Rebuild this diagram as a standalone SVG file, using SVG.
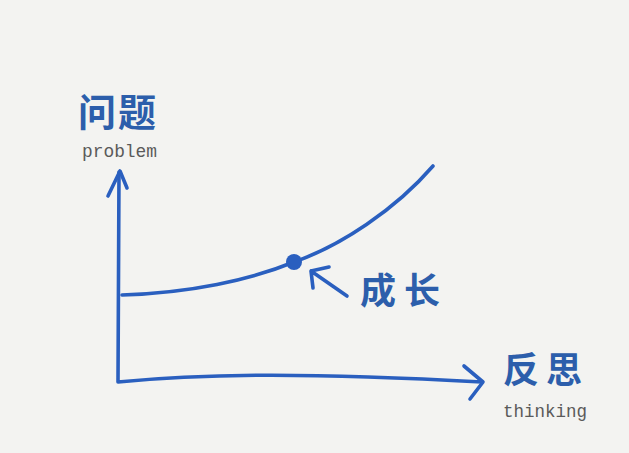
<svg xmlns="http://www.w3.org/2000/svg" width="629" height="453" viewBox="0 0 629 453">
  <style>
    .ln { fill: none; stroke: #2a5fbf; stroke-width: 3.6; stroke-linecap: round; stroke-linejoin: round; }
    .cjk { font-family: "Noto Sans CJK SC", "Liberation Sans", sans-serif; font-weight: bold; fill: #2c5eab; }
    .en { font-family: "Liberation Mono", "DejaVu Sans Mono", monospace; fill: #5a5a5a; font-size: 18px; }
  </style>
  <rect width="629" height="453" fill="#f3f3f1"/>
  <g id="axes">
    <path class="ln" d="M119,172 L118,382 C200,374 300,372 482,382"/>
    <path class="ln" d="M108,196 L120,171 L127,188"/>
    <path class="ln" d="M464,366 L483,382 L470,399"/>
  </g>
  <g id="curve">
    <path class="ln" d="M122,295 C190,293 250,280 294,262 C340,246 395,210 433,166"/>
    <circle cx="294" cy="262" r="8" fill="#2a5fbf"/>
    <path class="ln" d="M347,296 L311,271 M313,288 L311,271 L329,267"/>
  </g>
  <g id="labels">
    <text class="cjk" x="78" y="126" font-size="38" letter-spacing="2">问题</text>
    <text class="en" x="82" y="157" textLength="75" lengthAdjust="spacingAndGlyphs">problem</text>
    <text class="cjk" x="360" y="304" font-size="36" letter-spacing="8">成长</text>
    <text class="cjk" x="503" y="383" font-size="36" letter-spacing="7">反思</text>
    <text class="en" x="503" y="417" textLength="84" lengthAdjust="spacingAndGlyphs">thinking</text>
  </g>
</svg>
